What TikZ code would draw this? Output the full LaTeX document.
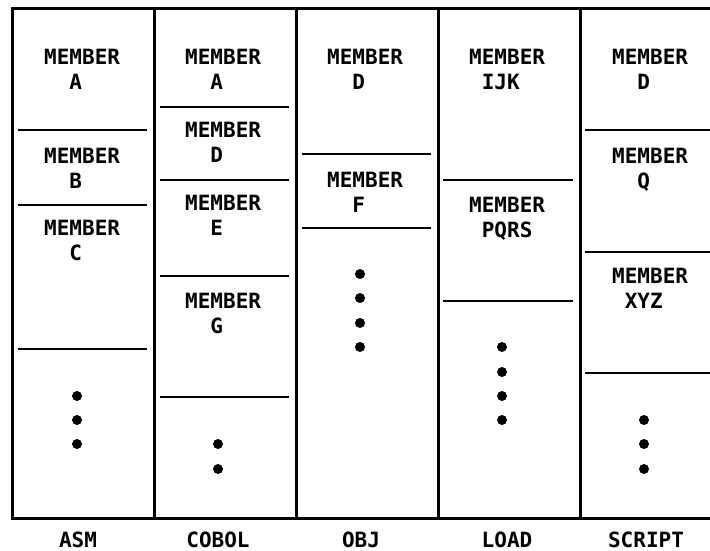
\documentclass[tikz,border=0pt]{standalone}
\usepackage{fontspec}
\setmonofont{DejaVu Sans Mono}
\begin{document}
\begin{tikzpicture}[x=1pt,y=-1pt,
  frame/.style={line width=3pt},
  sep/.style={line width=2.6pt},
  lbl/.style={font=\ttfamily\bfseries\fontsize{21}{25}\selectfont, inner sep=0pt, anchor=base west},
  ttl/.style={font=\ttfamily\bfseries\fontsize{21}{25}\selectfont, inner sep=0pt, text depth=0pt, anchor=base},
  dotm/.style={circle, fill=black, inner sep=0pt, minimum size=10pt}]
\useasboundingbox (0,0) rectangle (710,551);
\begin{scope}
\clip (0,0) rectangle (710,551);
% outer frame and column dividers
\draw[frame] (12,9) rectangle (723,518);
\foreach \x in {154,296,438,580} \draw[frame] (\x,9) -- (\x,518);
% separators
\foreach \y in {130,205,349} \draw[sep] (18,\y) -- (147,\y);
\foreach \y in {107,180,276,397} \draw[sep] (160,\y) -- (289,\y);
\foreach \y in {154,228} \draw[sep] (302,\y) -- (431,\y);
\foreach \y in {180,301} \draw[sep] (443,\y) -- (573,\y);
\foreach \y in {130,252,373} \draw[sep] (585,\y) -- (715,\y);
\end{scope}
\newcommand{\memlabel}[5]{%
  \node[lbl] (#1) at (#2,#3) {MEMBER};
  \node[lbl] (#1n) at ([xshift=#4*12.64pt,yshift=-25pt]#1.base west) {#5};}
% ASM
\memlabel{asmA}{44}{65}{2}{A}
\memlabel{asmB}{44}{163}{2}{B}
\memlabel{asmC}{44}{235}{2}{C}
% COBOL
\memlabel{cobA}{185}{65}{2}{A}
\memlabel{cobD}{185}{137}{2}{D}
\memlabel{cobE}{185}{210}{2}{E}
\memlabel{cobG}{185}{308}{2}{G}
% OBJ
\memlabel{objD}{327}{65}{2}{D}
\memlabel{objF}{327}{187}{2}{F}
% LOAD
\memlabel{ldIJK}{469}{65}{1}{IJK}
\memlabel{ldPQRS}{469}{212}{1}{PQRS}
% SCRIPT
\memlabel{scD}{612}{65}{2}{D}
\memlabel{scQ}{612}{163}{2}{Q}
\memlabel{scXYZ}{612}{283}{1}{XYZ}
% dots
\foreach \y [count=\i] in {396,420,444} \node[dotm] (asmdot\i) at (77,\y) {};
\foreach \y [count=\i] in {444,469} \node[dotm] (cobdot\i) at (218,\y) {};
\foreach \y [count=\i] in {274,298,323,347} \node[dotm] (objdot\i) at (360,\y) {};
\foreach \y [count=\i] in {347,372,396,420} \node[dotm] (lddot\i) at (502,\y) {};
\foreach \y [count=\i] in {420,444,469} \node[dotm] (scdot\i) at (644,\y) {};
% column titles
\node[ttl] (tasm) at (78,547) {ASM};
\node[ttl] (tcob) at (218,547) {COBOL};
\node[ttl] (tobj) at (361,547) {OBJ};
\node[ttl] (tload) at (507,547) {LOAD};
\node[ttl] (tscript) at (646,547) {SCRIPT};
\end{tikzpicture}
\end{document}
